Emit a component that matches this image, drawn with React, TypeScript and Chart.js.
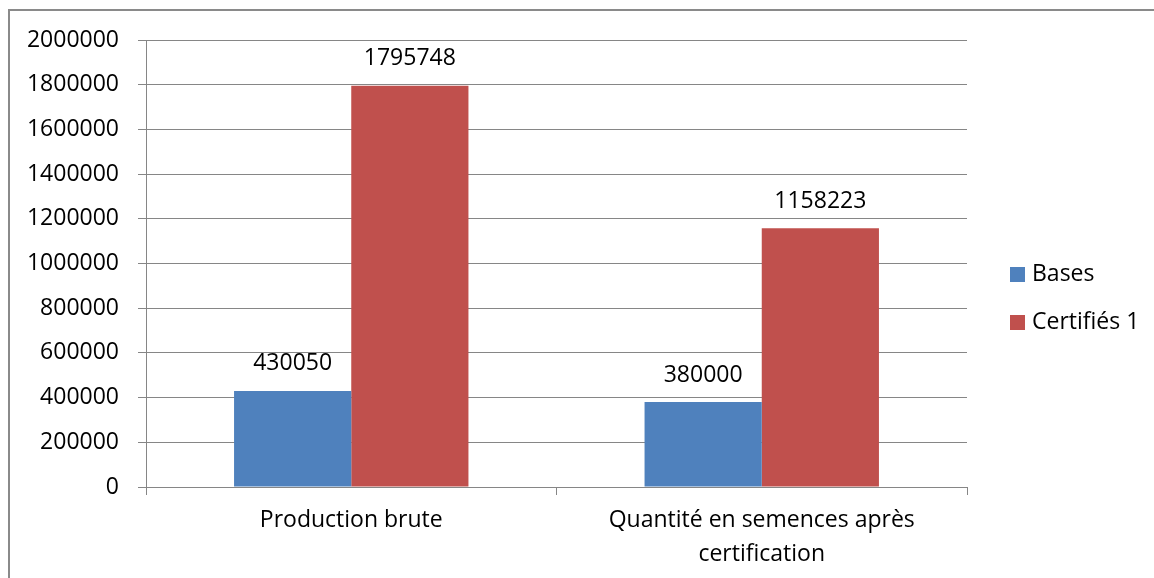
import React, { useEffect, useRef } from "react";
import { Chart, registerables } from "chart.js";

Chart.register(...registerables);

const categories: (string | string[])[] = [
  "Production brute",
  ["Quantité en semences après", "certification"],
];
const seriesNames = ["Bases", "Certifiés 1"];
const basesValues = [430050, 380000];
const certifiesValues = [1795748, 1158223];
const seriesColors = ["#4F81BD", "#C0504D"];
const yMin = 0;
const yMax = 2000000;
const yStep = 200000;

const FONT = "'Open Sans', 'Noto Sans', sans-serif";
const FONT_SIZE = 23;
const GRID = "#868686";

const framePlugin = {
  id: "frame",
  beforeDraw(chart: any) {
    const ctx = chart.ctx;
    ctx.save();
    ctx.fillStyle = "#ffffff";
    ctx.fillRect(0, 0, chart.width, chart.height);
    ctx.fillStyle = "#8a8a8a";
    ctx.fillRect(8, 9, chart.width - 8, 2);
    ctx.fillRect(8, 9, 2, chart.height - 9);
    ctx.restore();
  },
};

const valueLabelPlugin = {
  id: "valueLabels",
  afterDatasetsDraw(chart: any) {
    const ctx = chart.ctx;
    ctx.save();
    ctx.font = `${FONT_SIZE}px ${FONT}`;
    ctx.fillStyle = "#000000";
    ctx.textAlign = "center";
    ctx.textBaseline = "middle";
    chart.data.datasets.forEach((ds: any, di: number) => {
      const meta = chart.getDatasetMeta(di);
      meta.data.forEach((bar: any, i: number) => {
        ctx.fillText(String(ds.data[i]), bar.x, bar.y - 27);
      });
    });
    ctx.restore();
  },
};

const legendPlugin = {
  id: "sideLegend",
  afterDraw(chart: any) {
    const ctx = chart.ctx;
    const area = chart.chartArea;
    const x = area.right + 43;
    const cy = (area.top + area.bottom) / 2 + 35;
    ctx.save();
    ctx.font = `${FONT_SIZE}px ${FONT}`;
    ctx.textAlign = "left";
    ctx.textBaseline = "middle";
    chart.data.datasets.forEach((ds: any, di: number) => {
      const y = cy + di * 48 - 24;
      ctx.fillStyle = ds.backgroundColor;
      ctx.fillRect(x, y - 7.5, 15, 15);
      ctx.fillStyle = "#000000";
      ctx.fillText(ds.label, x + 22, y);
    });
    ctx.restore();
  },
};

export default function App() {
  const ref = useRef<HTMLCanvasElement | null>(null);

  useEffect(() => {
    if (!ref.current) return;
    Chart.defaults.font.family = FONT;
    Chart.defaults.font.size = FONT_SIZE;
    Chart.defaults.color = "#000000";
    const chart = new Chart(ref.current, {
      type: "bar",
      data: {
        labels: categories,
        datasets: [
          {
            label: seriesNames[0],
            data: basesValues,
            backgroundColor: seriesColors[0],
            categoryPercentage: 0.571,
            barPercentage: 1,
          },
          {
            label: seriesNames[1],
            data: certifiesValues,
            backgroundColor: seriesColors[1],
            categoryPercentage: 0.571,
            barPercentage: 1,
          },
        ],
      },
      options: {
        animation: false,
        responsive: true,
        maintainAspectRatio: false,
        layout: { padding: { top: 40, right: 187, bottom: 0, left: 0 } },
        plugins: {
          legend: { display: false },
          tooltip: { enabled: false },
        },
        scales: {
          x: {
            offset: true,
            grid: {
              display: true,
              offset: true,
              drawOnChartArea: false,
              drawTicks: true,
              tickLength: 8,
              color: GRID,
              lineWidth: 1,
            },
            border: { display: true, color: GRID, width: 1 },
            ticks: {
              padding: 9,
              maxRotation: 0,
              autoSkip: false,
              font: { family: FONT, size: FONT_SIZE, lineHeight: 1.45 },
              color: "#000000",
            },
            afterFit(scale: any) {
              scale.height = 91;
            },
          },
          y: {
            min: yMin,
            max: yMax,
            grid: {
              color: GRID,
              lineWidth: 1,
              drawTicks: true,
              tickLength: 8,
            },
            border: { display: true, color: GRID, width: 1 },
            ticks: {
              stepSize: yStep,
              padding: 19,
              color: "#000000",
              font: { family: FONT, size: FONT_SIZE },
              callback: (v: any) => String(v),
            },
            afterFit(scale: any) {
              scale.width = 146;
            },
          },
        },
      },
      plugins: [framePlugin, valueLabelPlugin, legendPlugin],
    });
    return () => chart.destroy();
  }, []);

  return (
    <div
      style={{
        position: "fixed",
        left: 0,
        top: 0,
        width: 1154,
        height: 578,
        background: "#ffffff",
      }}
    >
      <canvas ref={ref} />
    </div>
  );
}
